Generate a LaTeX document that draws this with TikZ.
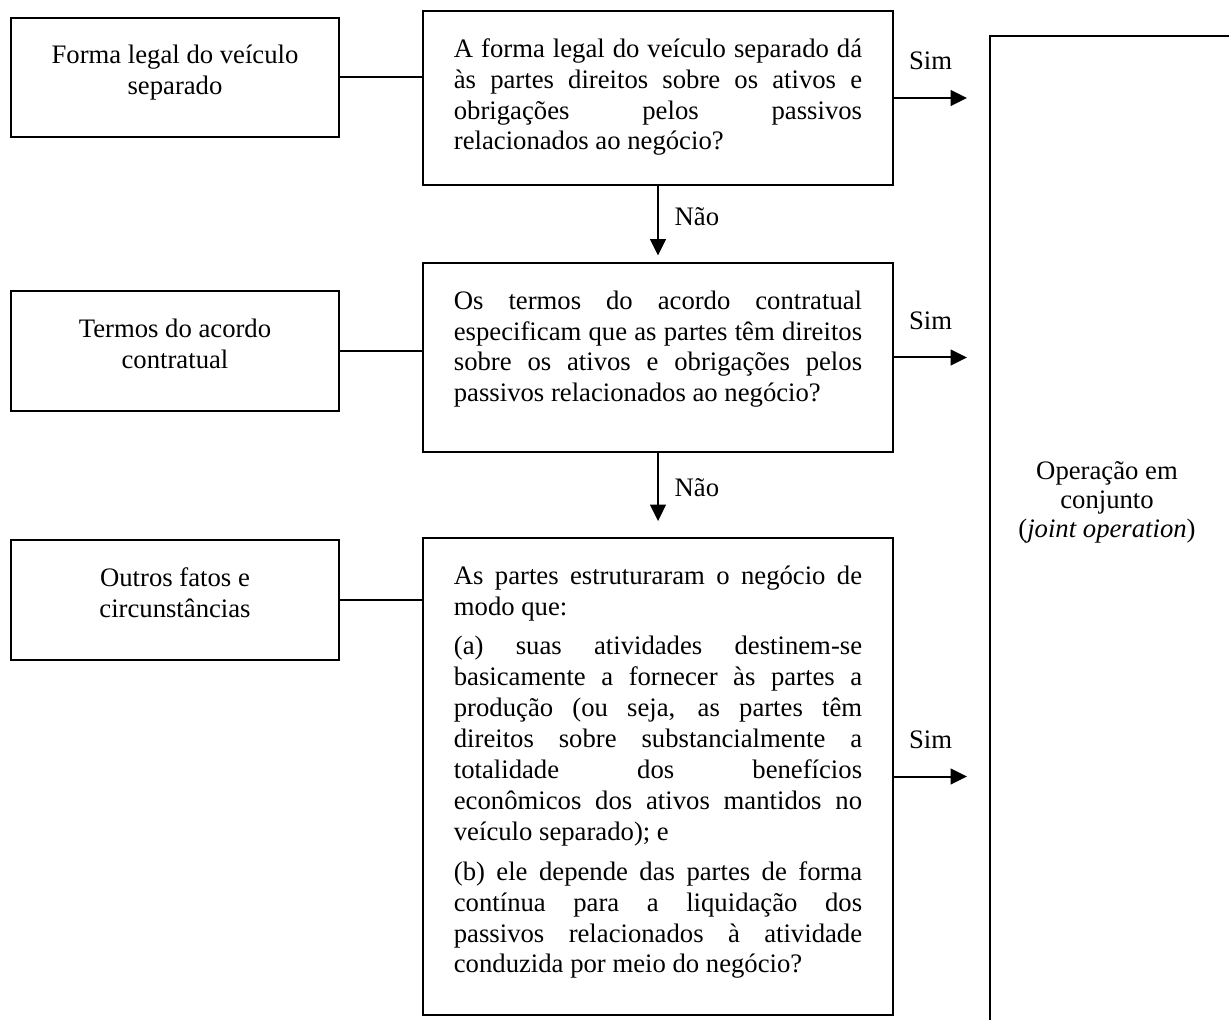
\documentclass[tikz,border=0pt]{standalone}
\usepackage{fontspec}
\setmainfont{Liberation Serif}
\usetikzlibrary{arrows.meta}
\setlength{\parindent}{0pt}
\tolerance=10000
\pretolerance=10000
\hbadness=10000

\begin{document}
\begin{tikzpicture}[x=.158mm,y=-.158mm,line width=.9pt,font=\fontsize{12}{13.9}\selectfont,
		caixa/.style={draw,inner ysep=1.4mm,text height=5.9mm},
		fonte/.style={caixa,minimum width=51.8mm,text width=45mm,align=flush center,text depth=10.2mm},
		pergunta/.style={caixa,minimum width=74.3mm,text width=64.5mm,align=justify},
		seta/.style={-{Triangle[length=2.6mm,width=2.5mm]}}]
	\useasboundingbox (0,0) rectangle (1229,1020);
	\clip (0,0) rectangle (1229,1020);

	\node[fonte] (forma) at (175,77.5) {Forma legal do veículo\\separado};
	\node[pergunta,text depth=18.8mm] (q1) at (658,98) {A forma legal do veículo separado dá\linebreak às partes direitos sobre os ativos e\linebreak obrigações pelos passivos\linebreak relacionados ao negócio?};

	\node[fonte] (termos) at (175,351) {Termos do acordo\\contratual};
	\node[pergunta,text depth=21.2mm] (q2) at (658,357.5) {Os termos do acordo contratual\linebreak especificam que as partes têm direitos\linebreak sobre os ativos e obrigações pelos\linebreak passivos relacionados ao negócio?};

	\node[fonte] (outros) at (175,600) {Outros fatos e\\circunstâncias};
	\node[pergunta,text depth=66.7mm] (q3) at (658,776.5) {As partes estruturaram o negócio de\linebreak modo que:\par\vspace{4pt}
		(a) suas atividades destinem-se\linebreak basicamente a fornecer às partes a\linebreak produção (ou seja, as partes têm\linebreak direitos sobre substancialmente a\linebreak totalidade dos benefícios\linebreak econômicos dos ativos mantidos no\linebreak veículo separado); e\par\vspace{4pt}
		(b) ele depende das partes de forma\linebreak contínua para a liquidação dos\linebreak passivos relacionados à atividade\linebreak conduzida por meio do negócio?};

	\node[draw,anchor=north west,minimum width=50mm,minimum height=170mm] (joint) at (989,35) {};
	\node[align=center,font=\fontsize{12}{13}\selectfont] (rotulo) at (1107,502) {Operação em\\conjunto\\(\textit{joint operation})};

	\coordinate (s1) at (967,98);
	\coordinate (s2) at (967,357.5);
	\coordinate (s3) at (967,776.5);

	\draw (forma.east) -- (forma.east -| q1.west);
	\draw (termos.east) -- (termos.east -| q2.west);
	\draw (outros.east) -- (outros.east -| q3.west);

	\draw[seta] (q1.east) -- (s1) node[midway,above=3.1mm] {Sim};
	\draw[seta] (q2.east) -- (s2) node[midway,above=3.1mm] {Sim};
	\draw[seta] (q3.east) -- (s3) node[midway,above=3.1mm] {Sim};

	\draw[seta,shorten >=1mm] (q1) -- (q2) node[midway,right=1.3mm,yshift=1.1mm] {Não};
	\draw[seta,shorten >=2.5mm] (q2) -- (q3) node[midway,right=1.3mm,yshift=1.1mm] {Não};
\end{tikzpicture}
\end{document}
